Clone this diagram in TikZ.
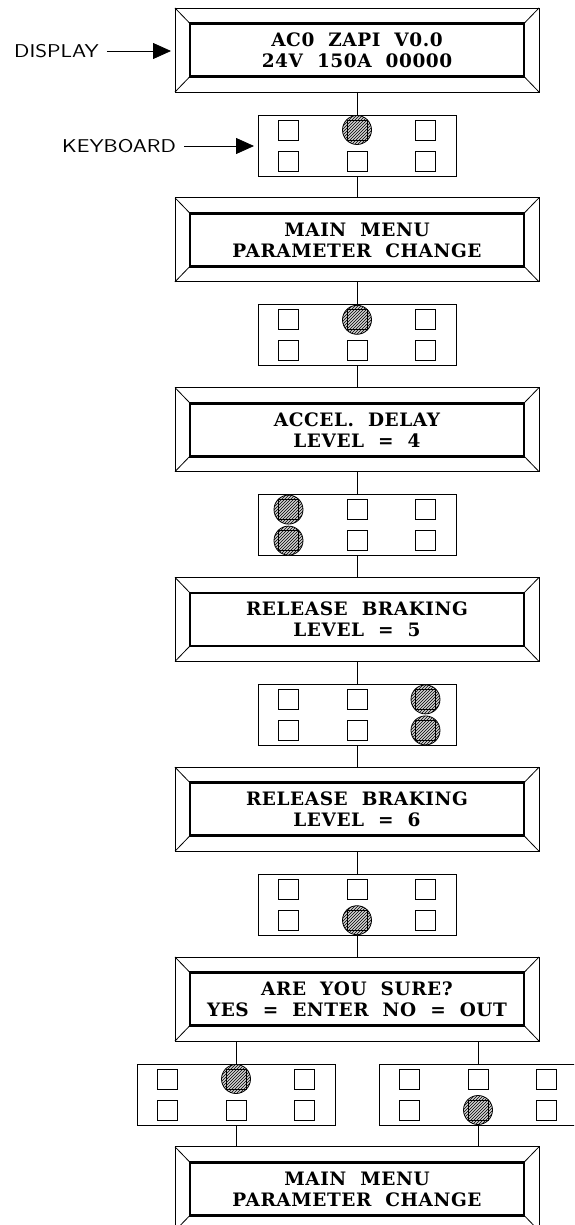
\documentclass[tikz,border=0pt]{standalone}
\usepackage{fontspec}
\setmainfont{DejaVu Serif}
\newfontfamily\dispfont{DejaVu Serif Bold}[LetterSpace=3]
\usetikzlibrary{patterns,arrows.meta}

\newcommand\dispnode[4]{%
  \node[dframe] (#1) at (357,{#2+42}) {};
  \node[dinner] (#1i) at (357,{#2+42}) {};
  \draw[diag] (#1.north west) -- (#1i.north west);
  \draw[diag] (#1.north east) -- (#1i.north east);
  \draw[diag] (#1.south west) -- (#1i.south west);
  \draw[diag] (#1.south east) -- (#1i.south east);
  \node[dtext] (#1a) at (357,{#2+38.5}) {#3};
  \node[dtext] (#1b) at (357,{#2+59.5}) {#4};
}
\newcommand\kbdnode[4]{%
  \node[kbox] (#1) at (#2,{#3+30.5}) {};
  \foreach \c/\r in {#4} {
    \fill[keyshade] ({#2+(\c-2)*68.5},{#3+15+(\r-1)*31}) circle (14.5);
    \fill[keyhatch] ({#2+(\c-2)*68.5},{#3+15+(\r-1)*31}) circle (14.5);
    \draw[key] ({#2+(\c-2)*68.5},{#3+15+(\r-1)*31}) circle (14.5);
  }
  \foreach \c in {1,2,3} {\foreach \r in {1,2} {
    \draw[key] ({#2+(\c-2)*68.5},{#3+15+(\r-1)*31}) ++(-10,-10) rectangle ++(20,20);
  }}
}

\begin{document}
\begin{tikzpicture}[x=1pt,y=-1pt,
  dframe/.style={draw=black,line width=0.9pt,minimum width=364pt,minimum height=84pt,inner sep=0pt,outer sep=0pt},
  dinner/.style={draw=black,line width=2.8pt,minimum width=334pt,minimum height=53pt,inner sep=0pt,outer sep=0pt},
  diag/.style={draw=black,line width=0.8pt},
  dtext/.style={font=\dispfont\fontsize{18.5}{22}\selectfont,anchor=base,inner sep=0pt},
  kbox/.style={draw=black,line width=0.8pt,minimum width=198pt,minimum height=61pt,inner sep=0pt,outer sep=0pt},
  key/.style={draw=black,line width=0.8pt},
  keyshade/.style={fill=gray!35},
  keyhatch/.style={pattern=north east lines,pattern color=black},
  conn/.style={draw=black,line width=0.8pt},
  lbl/.style={font=\sffamily\fontsize{18.5}{20}\selectfont,inner sep=0pt,anchor=west},
  arr/.style={line width=0.8pt,-{Triangle[length=18pt,width=16pt]},shorten >=4pt},
]
\useasboundingbox (0,0) rectangle (574,1225);
\clip (0,0) rectangle (574,1225);

\dispnode{d1}{8}{AC0~~ZAPI~~V0.0}{24V~~150A~~00000}
\kbdnode{k1}{357}{115}{2/1}
\dispnode{d2}{197.8}{MAIN~~MENU}{PARAMETER~~CHANGE}
\kbdnode{k2}{357}{304.8}{2/1}
\dispnode{d3}{387.6}{ACCEL.~~DELAY}{LEVEL~~=~~4}
\kbdnode{k3}{357}{494.6}{1/1,1/2}
\dispnode{d4}{577.4}{RELEASE~~BRAKING}{LEVEL~~=~~5}
\kbdnode{k4}{357}{684.4}{3/1,3/2}
\dispnode{d5}{767.2}{RELEASE~~BRAKING}{LEVEL~~=~~6}
\kbdnode{k5}{357}{874.2}{2/2}
\dispnode{d6}{957}{ARE~~YOU~~SURE?}{YES~~=~~ENTER~~NO~~=~~OUT}
\kbdnode{kl}{236}{1064}{2/1}
\kbdnode{kr}{478}{1064}{2/2}
\dispnode{d7}{1146.8}{MAIN~~MENU}{PARAMETER~~CHANGE}

\draw[conn] (d1.south) -- (k1.north);
\draw[conn] (k1.south) -- (d2.north);
\draw[conn] (d2.south) -- (k2.north);
\draw[conn] (k2.south) -- (d3.north);
\draw[conn] (d3.south) -- (k3.north);
\draw[conn] (k3.south) -- (d4.north);
\draw[conn] (d4.south) -- (k4.north);
\draw[conn] (k4.south) -- (d5.north);
\draw[conn] (d5.south) -- (k5.north);
\draw[conn] (k5.south) -- (d6.north);
\draw[conn] (d6.south -| kl.north) -- (kl.north);
\draw[conn] (d6.south -| kr.north) -- (kr.north);
\draw[conn] (kl.south) -- (kl.south |- d7.north);
\draw[conn] (kr.south) -- (kr.south |- d7.north);

\node[lbl] (ldisp) at (14,51) {\scalebox{1.22}[1]{DISPLAY}};
\draw[arr] ([xshift=8pt]ldisp.east) -- (ldisp.east -| d1.west);
\node[lbl] (lkbd) at (62,146) {\scalebox{1.22}[1]{KEYBOARD}};
\draw[arr] ([xshift=8pt]lkbd.east) -- (lkbd.east -| k1.west);
\end{tikzpicture}
\end{document}
